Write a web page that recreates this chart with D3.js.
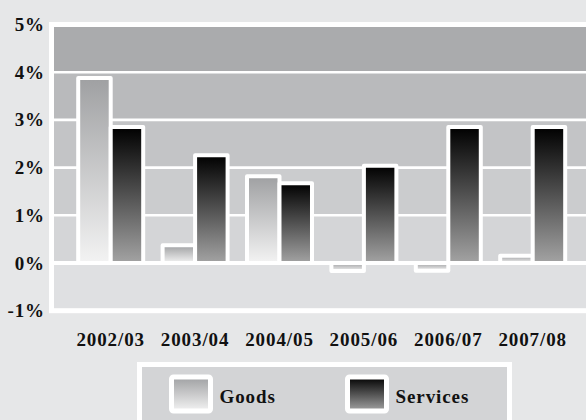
<!DOCTYPE html>
<html>
<head>
<meta charset="utf-8">
<script src="https://cdn.jsdelivr.net/npm/d3@7"></script>
<style>
  html, body { margin: 0; padding: 0; background: #e6e7e8; }
  svg { display: block; }
  text { font-family: "Liberation Serif", serif; font-weight: bold; fill: #111; }
</style>
</head>
<body>
<svg id="chart" width="586" height="420"></svg>
<script>
// Annual growth by year, percent
const categories = ["2002/03", "2003/04", "2004/05", "2005/06", "2006/07", "2007/08"];
const goods      = [3.88, 0.37, 1.82, -0.17, -0.16, 0.15];
const services   = [2.85, 2.26, 1.67, 2.04, 2.85, 2.85];
const seriesNames = ["Goods", "Services"];
const yTicks = [-1, 0, 1, 2, 3, 4, 5];
const yTickLabels = ["-1%", "0%", "1%", "2%", "3%", "4%", "5%"];
const bandFills = ["#dfe0e2", "#d4d5d7", "#cbccce", "#c3c4c6", "#b9babc", "#aaabad"];

const FONT = "Liberation Serif";
const FS = 19;
const LS = 0.9;

const svg = d3.select("#chart");
const plot = { left: 51.5, right: 590, top: 24.5, bottom: 310.7 };

const y = d3.scaleLinear().domain([-1, 5]).range([plot.bottom, plot.top]);
const x = d3.scaleBand().domain(categories).range([68.5, 574.9])
  .paddingInner(0.23).paddingOuter(0.115);
const xs = d3.scaleBand().domain(seriesNames).range([0, x.bandwidth()]);

// gradients for the two series
const defs = svg.append("defs");
function grad(id, top, bottom) {
  const g = defs.append("linearGradient").attr("id", id)
    .attr("x1", 0).attr("y1", 0).attr("x2", 0).attr("y2", 1);
  g.append("stop").attr("offset", "0%").attr("stop-color", top);
  g.append("stop").attr("offset", "100%").attr("stop-color", bottom);
}
grad("gGoods", "#9fa0a2", "#f3f3f3");
grad("gServices", "#000000", "#a3a3a3");
const fills = { Goods: "url(#gGoods)", Services: "url(#gServices)" };

// shaded bands between gridlines
svg.append("g").selectAll("rect").data(d3.range(-1, 5)).join("rect")
  .attr("x", plot.left).attr("width", plot.right - plot.left)
  .attr("y", d => y(d + 1)).attr("height", d => y(d) - y(d + 1))
  .attr("fill", (d, i) => bandFills[i]);

// gridlines
svg.append("g").selectAll("line").data([1, 2, 3, 4]).join("line")
  .attr("x1", plot.left).attr("x2", plot.right)
  .attr("y1", d => y(d)).attr("y2", d => y(d))
  .attr("stroke", "#fff").attr("stroke-width", 2.6);
svg.append("line")
  .attr("x1", plot.left).attr("x2", plot.right)
  .attr("y1", y(0)).attr("y2", y(0))
  .attr("stroke", "#fff").attr("stroke-width", 4);

// frame
svg.append("rect")
  .attr("x", plot.left).attr("y", plot.top)
  .attr("width", plot.right - plot.left).attr("height", plot.bottom - plot.top)
  .attr("fill", "none").attr("stroke", "#fff").attr("stroke-width", 5);

// bars
const rows = categories.map((c, i) => ({ cat: c, vals: [
  { s: "Goods", v: goods[i] }, { s: "Services", v: services[i] } ] }));
svg.append("g").selectAll("g").data(rows).join("g")
  .attr("transform", d => `translate(${x(d.cat)},0)`)
  .selectAll("rect").data(d => d.vals).join("rect")
  .attr("x", d => xs(d.s)).attr("width", xs.bandwidth())
  .attr("y", d => y(Math.max(0, d.v)))
  .attr("height", d => Math.abs(y(d.v) - y(0)))
  .attr("fill", d => fills[d.s])
  .attr("stroke", "#fff").attr("stroke-width", 4)
  .attr("stroke-linejoin", "round");

function styleText(sel) {
  sel.attr("font-size", FS).attr("font-family", FONT)
    .attr("font-weight", "bold").attr("fill", "#111")
    .attr("letter-spacing", LS);
}

// y axis labels
const yAxis = d3.axisLeft(y).tickValues(yTicks)
  .tickFormat((d, i) => yTickLabels[i]).tickSize(0).tickPadding(0);
const gy = svg.append("g").attr("transform", "translate(45,0)").call(yAxis);
gy.select(".domain").remove();
gy.selectAll("text").call(styleText).attr("dy", "0.32em");

// x axis labels
const xAxis = d3.axisBottom(x).tickSize(0).tickPadding(0);
const gx = svg.append("g").attr("transform", "translate(0,332)").call(xAxis);
gx.select(".domain").remove();
gx.selectAll("text").call(styleText).attr("dy", "0.71em");

// legend
const legend = svg.append("g");
legend.append("rect").attr("x", 139.5).attr("y", 364.5).attr("width", 370).attr("height", 70)
  .attr("fill", "#d3d4d6").attr("stroke", "#fff").attr("stroke-width", 5);
const legendX = { Goods: 171.5, Services: 347.5 };
seriesNames.forEach(s => {
  legend.append("rect").attr("x", legendX[s]).attr("y", 377).attr("width", 39).attr("height", 34)
    .attr("rx", 2).attr("fill", fills[s]).attr("stroke", "#fff").attr("stroke-width", 5);
  legend.append("text").attr("x", legendX[s] + 48).attr("y", 397)
    .attr("dy", "0.33em").call(styleText).text(s);
});
</script>
</body>
</html>
